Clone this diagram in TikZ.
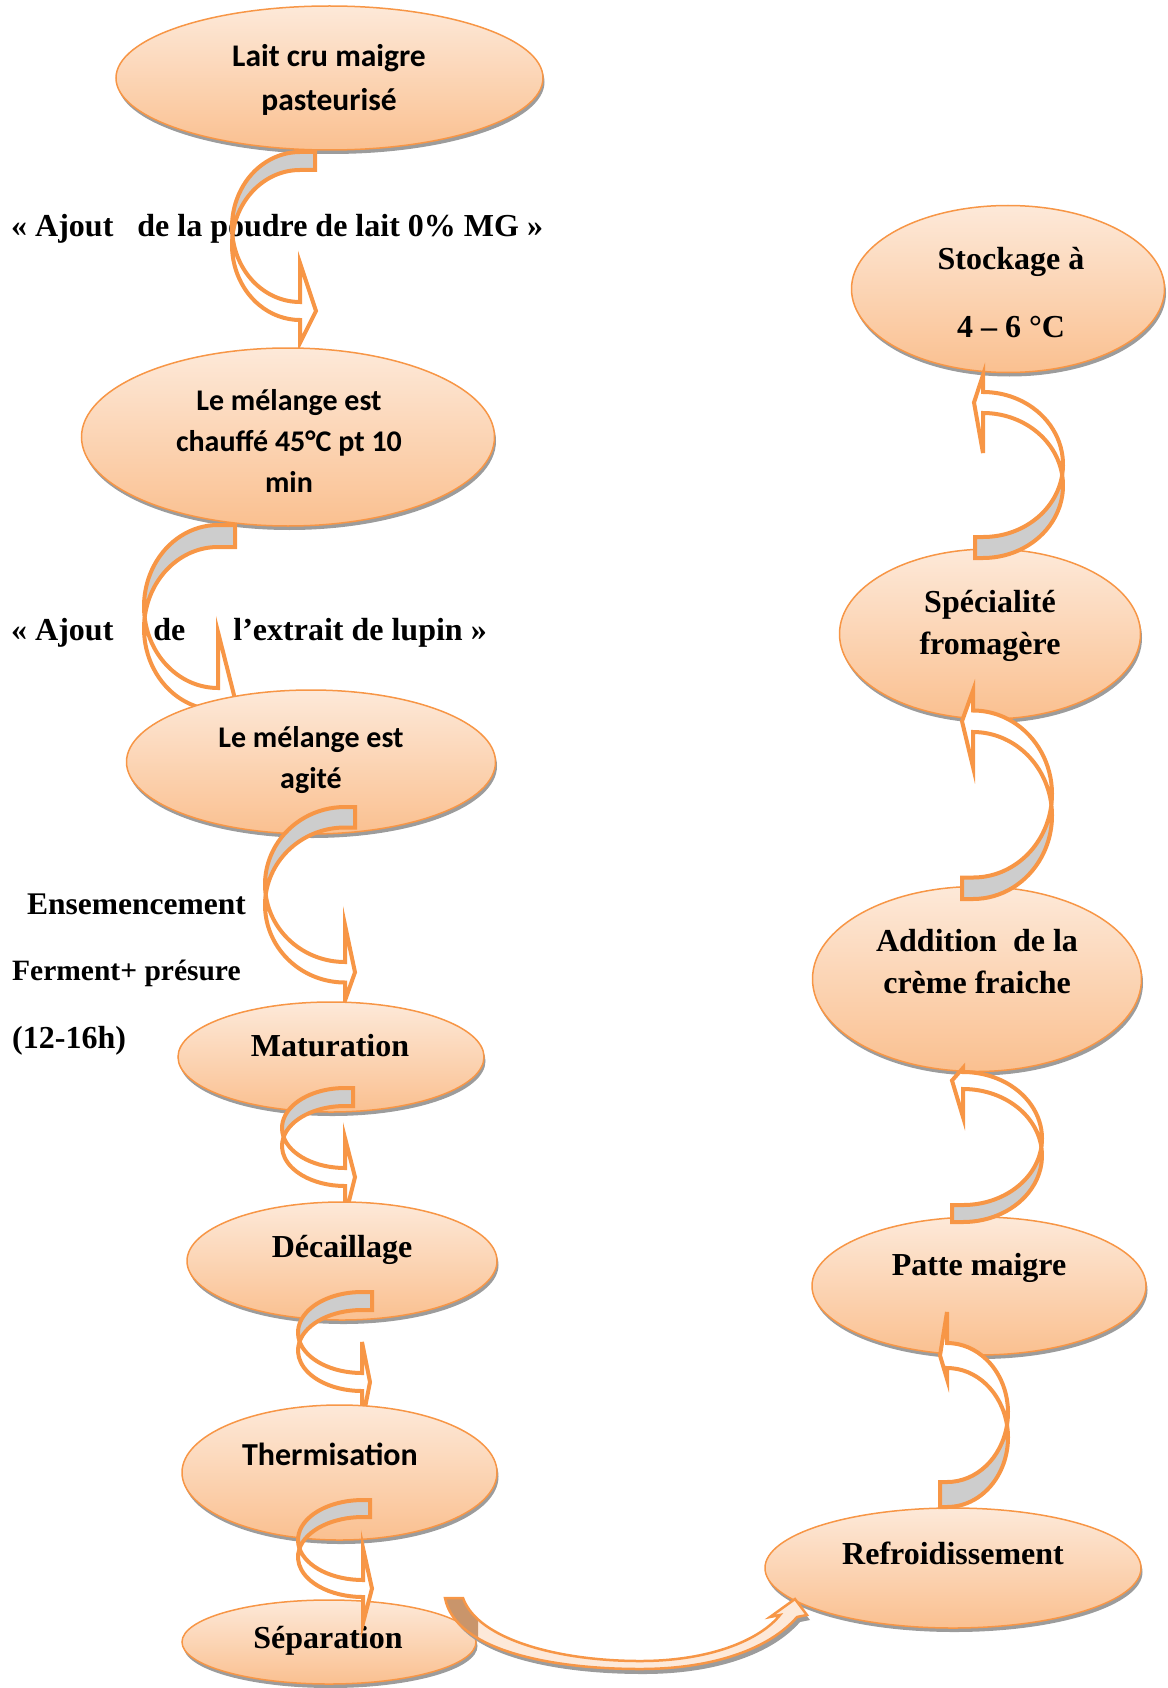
\documentclass[tikz,border=0pt]{standalone}
\usepackage{fontspec}
\setmainfont{Liberation Serif}
\newfontfamily\calibri{Carlito}
\usepackage{tikz}
\usetikzlibrary{shapes.geometric, shadows}
\definecolor{orangeLine}{HTML}{F79646}
\definecolor{peachTop}{HTML}{FDE9D9}
\definecolor{peachBottom}{HTML}{FAC090}
\definecolor{bandGray}{HTML}{CDCDCD}
\definecolor{shadowGray}{HTML}{9C9C9C}
\definecolor{tailBrown}{HTML}{C9956B}

\tikzset{
    etape/.style={ellipse, draw=orangeLine, line width=1.5pt, top color=peachTop, bottom color=peachBottom,
        inner sep=0pt, drop shadow={shadow xshift=1.5pt, shadow yshift=-4pt, fill=shadowGray, opacity=1}},
    sansText/.style={font=\calibri\bfseries\fontsize{30}{41}\selectfont, align=center, inner sep=0pt},
    serifText/.style={font=\bfseries\fontsize{32}{42}\selectfont, align=center, inner sep=0pt},
    arrowBand/.style={draw=orangeLine, line width=4pt, line join=miter},
}

% fleche courbe : #1 placement, #2 rx, #3 ry, #4 epaisseur, #5 queue, #6 #7 #8 pointe
\newcommand{\flecheCourbe}[8]{%
    \pgfmathsetmacro\fcDelta{asin(#4/(2*#3))}
    \begin{scope}[#1]
        \filldraw[arrowBand, fill=bandGray] (#5,#3) -- (0,#3)
            arc[start angle=90, end angle={180+\fcDelta}, x radius=#2pt, y radius=#3pt]
            arc[start angle={180-\fcDelta}, end angle=90, x radius=#2pt, y radius=#3pt]
            -- (#5,{#3-#4}) -- cycle;
        \filldraw[arrowBand, fill=white] ({-#2*cos(\fcDelta)},{-#4/2})
            arc[start angle={180-\fcDelta}, end angle=270, x radius=#2pt, y radius=#3pt]
            -- (0,{-#4-#3-#7}) -- (#8,{-#3-#4/2}) -- (0,{-#3+#6}) -- (0,-#3)
            arc[start angle=270, end angle={180+\fcDelta}, x radius=#2pt, y radius=#3pt] -- cycle;
    \end{scope}}

\def\grandeBande{(445,-1598) -- (463,-1598) .. controls (478,-1640) and (560,-1661) .. (640,-1661)
    .. controls (710,-1661) and (760,-1640) .. (780,-1615) -- (770,-1617) -- (795,-1599) -- (807,-1615)
    -- (797,-1617) .. controls (770,-1648) and (715,-1669) .. (640,-1669)
    .. controls (550,-1669) and (455,-1650) .. (445,-1598) -- cycle}

\begin{document}
\begin{tikzpicture}[x=1pt, y=1pt]
    \useasboundingbox (0,0) rectangle (1167,-1688);

    % textes libres
    \node[serifText, anchor=base west] (poudre) at (11,-237) {«~Ajout\hspace{24pt}de la poudre de lait 0\% MG~»};
    \node[serifText, anchor=base west] (lupin) at (11,-640) {«~Ajout\hspace{40pt}de\hspace{48pt}l’extrait de lupin~»};
    \node[serifText, anchor=base west, font=\bfseries\fontsize{31.5}{36}\selectfont] (ensemencement) at (27,-914) {Ensemencement};
    \node[serifText, anchor=base west, font=\bfseries\fontsize{29.5}{36}\selectfont] (ferment) at (12,-980) {Ferment+ présure};
    \node[serifText, anchor=base west] (duree) at (12,-1048) {(12-16h)};

    % colonne de gauche
    \node[etape, minimum width=427pt, minimum height=144pt] (lait) at (329.5,-78) {};
    \node[sansText, font=\calibri\bfseries\fontsize{31.5}{44}\selectfont] (laitT) at (329,-80) {Lait cru maigre\\pasteurisé};
    \flecheCourbe{shift={(300,-227)}}{68}{75}{18}{15}{39}{23}{16}

    \node[etape, minimum width=413pt, minimum height=178pt] (chauffe) at (288,-437) {};
    \node[sansText] (chauffeT) at (289,-441) {Le mélange est\\chauffé 45°C pt 10\\min};
    \flecheCourbe{shift={(218,-606.5)}}{74}{81.5}{22}{17}{56}{20}{17}

    \node[etape, minimum width=369pt, minimum height=144pt] (agite) at (311,-762) {};
    \node[sansText] (agiteT) at (311,-760) {Le mélange est\\agité};
    \flecheCourbe{shift={(345,-884.5)}}{80}{77.5}{20.5}{10}{37}{18}{10}

    \node[etape, minimum width=306pt, minimum height=110pt] (maturation) at (331,-1057) {};
    \node[serifText] (maturationT) at (330,-1046) {Maturation};
    \flecheCourbe{shift={(345,-1128)}}{63}{40}{18}{8}{30}{31}{10}

    \node[etape, minimum width=310pt, minimum height=118pt] (decaillage) at (342,-1261) {};
    \node[serifText] (decaillageT) at (342,-1250) {Décaillage};
    \flecheCourbe{shift={(362,-1332.5)}}{64}{40.5}{18}{10}{31}{32}{8}

    \node[etape, minimum width=315pt, minimum height=135pt] (thermisation) at (339.5,-1472.5) {};
    \node[sansText, font=\calibri\bfseries\fontsize{32}{41}\selectfont] (thermisationT) at (330,-1454) {Thermisation};

    \node[etape, minimum width=294pt, minimum height=84pt] (separation) at (329,-1642) {};
    \node[serifText] (separationT) at (328,-1641) {Séparation};
    \flecheCourbe{shift={(363,-1540)}}{65}{40}{17}{7}{32}{26}{9}

    % colonne de droite
    \node[etape, minimum width=313pt, minimum height=167pt] (stockage) at (1008,-289) {};
    \node[serifText, font=\bfseries\fontsize{32}{68}\selectfont] (stockageT) at (1011,-293) {Stockage à\\4 – 6 °C};

    \node[etape, minimum width=301pt, minimum height=170pt] (specialite) at (990,-634) {};
    \node[serifText] (specialiteT) at (990,-626) {Spécialité\\fromagère};

    \node[etape, minimum width=329pt, minimum height=185pt] (addition) at (977,-979) {};
    \node[serifText] (additionT) at (977,-962) {Addition\ \ de la\\crème fraiche};

    \node[etape, minimum width=334pt, minimum height=138pt] (patte) at (979,-1286) {};
    \node[serifText] (patteT) at (979,-1268) {Patte maigre};

    \node[etape, minimum width=376pt, minimum height=120pt] (refroidissement) at (953,-1568) {};
    \node[serifText] (refroidissementT) at (953,-1553) {Refroidissement};

    \flecheCourbe{shift={(983,-485.5)}, rotate=180}{80}{72.5}{21}{8}{40}{17}{9}
    \flecheCourbe{shift={(973,-815.5)}, rotate=180}{79}{83.5}{21.5}{11}{35}{20}{11}
    \flecheCourbe{shift={(963,-1155.5)}, rotate=180}{79}{66.5}{17}{11}{28}{4}{11}
    \flecheCourbe{shift={(947,-1437.5)}, rotate=180}{61}{69.5}{25}{7}{11}{31}{7}

    % grande fleche vers le refroidissement
    \begin{scope}[shift={(3,-5)}]
        \fill[shadowGray] \grandeBande;
    \end{scope}
    \fill[peachTop] \grandeBande;
    \begin{scope}
        \clip (430,-1590) rectangle (478,-1688);
        \fill[tailBrown] \grandeBande;
    \end{scope}
    \draw[orangeLine, line width=2.5pt, line join=miter] \grandeBande;
\end{tikzpicture}
\end{document}
